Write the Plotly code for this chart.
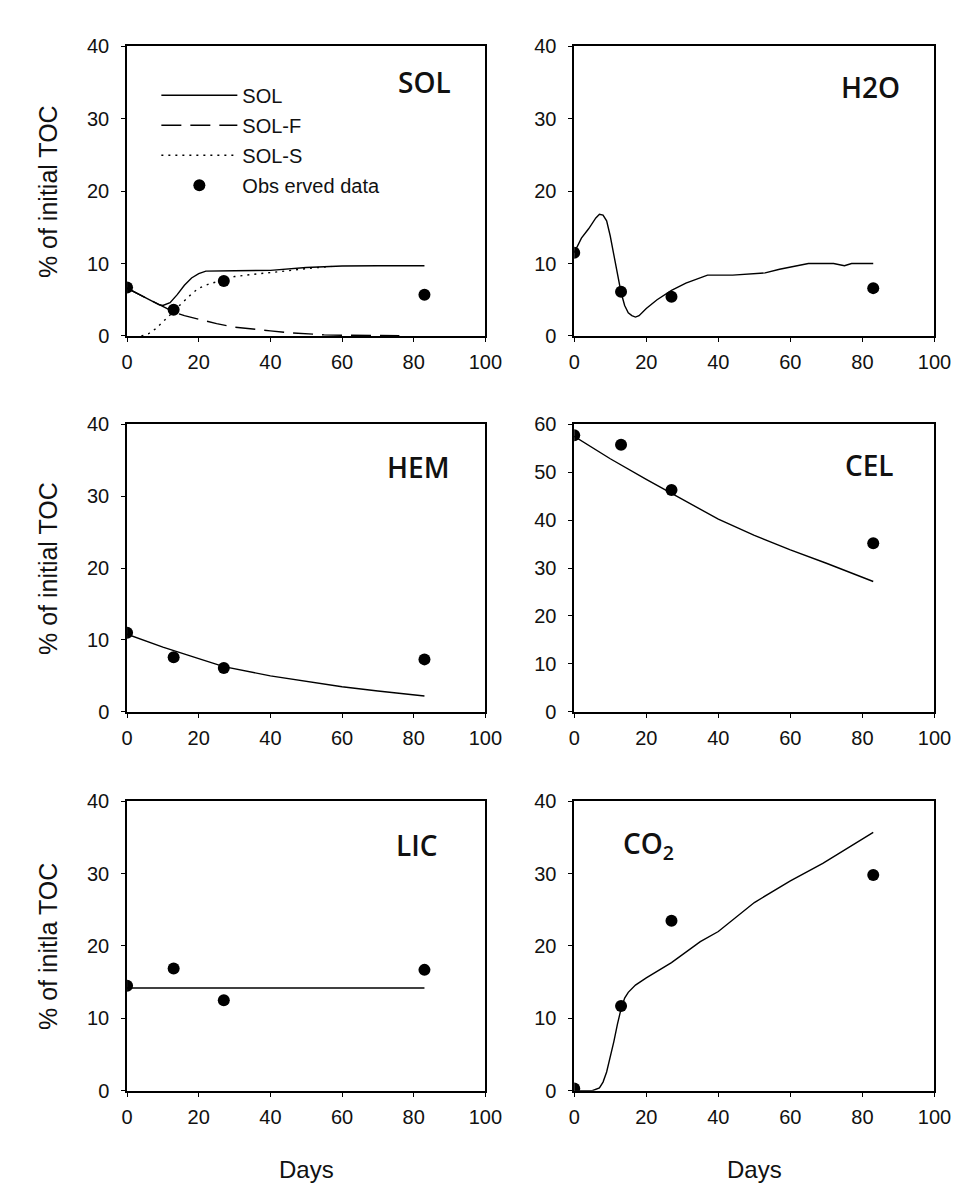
import plotly.graph_objects as go

# ---------------- data ----------------
obs_days = [0, 13, 27, 83]
sol_obs = [6.7, 3.6, 7.6, 5.7]
h2o_obs = [11.5, 6.1, 5.4, 6.6]
hem_obs = [11.0, 7.6, 6.1, 7.3]
cel_obs = [57.7, 55.7, 46.3, 35.2]
lic_obs = [14.5, 16.9, 12.5, 16.7]
co2_obs = [0.3, 11.7, 23.5, 29.8]

sol_days = [0, 3, 6, 9, 10, 12, 14, 16, 18, 20, 22, 25, 30, 40, 45, 50, 55, 60, 70, 83]
sol_line = [6.6, 5.8, 5.0, 4.3, 4.2, 4.6, 5.7, 7.0, 8.0, 8.6, 8.95, 9.0, 9.0, 9.05, 9.3, 9.45, 9.55, 9.65, 9.7, 9.7]

solf_days = [0, 5, 10, 13, 16, 20, 25, 30, 35, 40, 45, 50, 55, 60, 65, 70, 76]
solf_line = [6.6, 5.3, 4.1, 3.3, 2.8, 2.3, 1.7, 1.2, 0.9, 0.7, 0.45, 0.25, 0.15, 0.1, 0.07, 0.05, 0.04]

sols_days = [4, 6, 8, 10, 12, 14, 16, 18, 20, 23, 26, 30, 35, 40, 45, 50, 57]
sols_line = [0.0, 0.3, 1.0, 1.9, 2.9, 3.9, 4.9, 5.8, 6.6, 7.2, 7.6, 8.2, 8.5, 8.7, 9.0, 9.3, 9.6]

h2o_days = [0, 2, 4, 6, 7, 8, 9, 10, 11, 12, 13, 14, 15, 16, 17, 18, 20, 23, 27, 31, 35, 37,
            44, 53, 57, 61, 65, 72, 75, 77, 83]
h2o_line = [11.5, 13.5, 14.8, 16.3, 16.8, 16.7, 15.9, 13.8, 11.2, 8.5, 6.0, 4.2, 3.2, 2.8, 2.6, 2.8,
            3.8, 5.0, 6.3, 7.3, 8.0, 8.4, 8.4, 8.7, 9.2, 9.6, 10.0, 10.0, 9.7, 10.0, 10.0]

hem_days = [0, 10, 20, 27, 40, 50, 60, 70, 83]
hem_line = [10.8, 9.0, 7.4, 6.3, 5.0, 4.2, 3.5, 2.9, 2.2]

cel_days = [0, 10, 20, 30, 40, 50, 60, 70, 83]
cel_line = [57.5, 52.8, 48.5, 44.4, 40.2, 36.8, 33.8, 31.0, 27.2]

lic_days = [0, 83]
lic_line = [14.2, 14.2]

co2_days = [0, 5, 7, 8, 9, 10, 11, 12, 13, 14, 15, 17, 20, 27, 35, 40, 50, 60, 69, 83]
co2_line = [0, 0, 0.4, 1.2, 2.6, 4.6, 6.8, 9.2, 11.3, 12.8, 13.6, 14.6, 15.6, 17.7, 20.6, 22.0,
            26.0, 29.0, 31.4, 35.7]

panel_titles = ["SOL", "H2O", "HEM", "CEL", "LIC", "CO<sub>2</sub>"]
y_titles = ["% of initial TOC", "% of initial TOC", "% of initla TOC"]
x_title = "Days"
legend_names = ["SOL", "SOL-F", "SOL-S", "Obs erved data"]

# ---------------- figure ----------------
W, H = 971, 1196
fig = go.Figure()

LINE = dict(color="black", width=1.4)
MARK = dict(color="black", size=12)

def add_line(x, y, ax, name=None, dash="solid", show=False, group=None):
    fig.add_trace(go.Scatter(x=x, y=y, mode="lines", line=dict(LINE, dash=dash),
                             xaxis="x" + ax, yaxis="y" + ax, name=name,
                             showlegend=show, legendgroup=group, hoverinfo="skip"))

def add_obs(y, ax, show=False):
    fig.add_trace(go.Scatter(x=obs_days, y=y, mode="markers", marker=MARK,
                             xaxis="x" + ax, yaxis="y" + ax, name=legend_names[3],
                             showlegend=show, legendgroup="g4", hoverinfo="skip"))

# panel 1 SOL
add_line(sol_days, sol_line, "", legend_names[0], "solid", True, "g1")
add_line(solf_days, solf_line, "", legend_names[1], "20px,9px", True, "g2")
add_line(sols_days, sols_line, "", legend_names[2], "2px,5px", True, "g3")
add_obs(sol_obs, "", True)
# panel 2 H2O
add_line(h2o_days, h2o_line, "2")
add_obs(h2o_obs, "2")
# panel 3 HEM
add_line(hem_days, hem_line, "3")
add_obs(hem_obs, "3")
# panel 4 CEL
add_line(cel_days, cel_line, "4")
add_obs(cel_obs, "4")
# panel 5 LIC
add_line(lic_days, lic_line, "5")
add_obs(lic_obs, "5")
# panel 6 CO2
add_line(co2_days, co2_line, "6")
add_obs(co2_obs, "6")

col_dom = [[124 / W, 491 / W], [582 / W, 951 / W]]
row_dom = [[1 - 331 / H, 1 - 36 / H], [1 - 714 / H, 1 - 421 / H], [1 - 1100 / H, 1 - 805 / H]]

tickfont = dict(family="Liberation Sans, Arial", size=20, color="#111")

layout = dict(
    width=W, height=H, margin=dict(l=0, r=0, t=0, b=0),
    paper_bgcolor="white", plot_bgcolor="white",
    showlegend=True,
    legend=dict(x=154 / W, y=1 - 66 / H, xanchor="left", yanchor="top",
                font=dict(family="Liberation Sans, Arial", size=20, color="#111"),
                bgcolor="rgba(0,0,0,0)", itemwidth=76, tracegroupgap=1,
                traceorder="grouped"),
)

for i in range(6):
    r, c = divmod(i, 2)
    s = "" if i == 0 else str(i + 1)
    yr = [0, 60] if i == 3 else [0, 40]
    layout["xaxis" + s] = dict(domain=col_dom[c], anchor="y" + s, range=[0, 100],
                              tickvals=[0, 20, 40, 60, 80, 100], showline=True, mirror=True,
                              linecolor="black", linewidth=1.6, ticks="outside", ticklen=4,
                              tickcolor="black", tickwidth=1.4, showgrid=False, zeroline=False,
                              tickfont=tickfont, ticklabelstandoff=3)
    layout["yaxis" + s] = dict(domain=row_dom[r], anchor="x" + s, range=yr, dtick=10,
                              showline=True, mirror=True, linecolor="black", linewidth=1.6,
                              ticks="outside", ticklen=4, tickcolor="black", tickwidth=1.4,
                              showgrid=False, zeroline=False, tickfont=tickfont,
                              ticklabelstandoff=8)

fig.update_layout(**layout)

# panel titles
title_pos = [(429, 72), (885, 77), (422, 465), (884, 463), (421, 850), (658, 850)]
for t, (px, py) in zip(panel_titles, title_pos):
    fig.add_annotation(text=t, x=px / W, y=1 - py / H, xref="paper", yref="paper",
                       showarrow=False, xanchor="center", yanchor="middle",
                       font=dict(family="Open Sans", size=28, color="#111", weight=600))

# y axis titles
for t, (lo, hi) in zip(y_titles, row_dom):
    fig.add_annotation(text=t, x=43 / W, y=(lo + hi) / 2, xref="paper", yref="paper",
                       showarrow=False, textangle=-90, xanchor="center", yanchor="middle",
                       font=dict(family="Liberation Sans, Arial", size=25, color="#111"))

# x axis titles
for lo, hi in col_dom:
    fig.add_annotation(text=x_title, x=(lo + hi) / 2, y=1 - 1180 / H, xref="paper", yref="paper",
                       showarrow=False, xanchor="center", yanchor="middle",
                       font=dict(family="Liberation Sans, Arial", size=24, color="#111"))

fig.write_html("out.html")
